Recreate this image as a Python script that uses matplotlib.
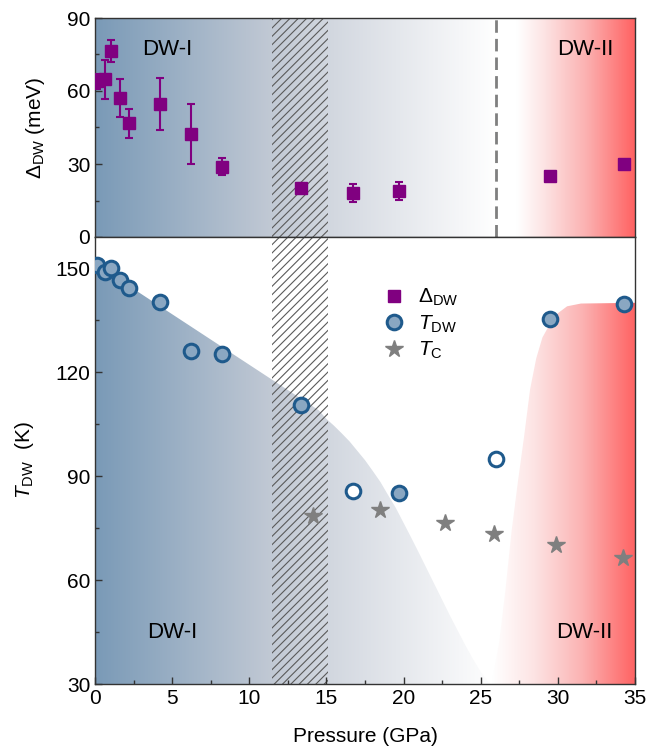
import numpy as np
import matplotlib
matplotlib.use("Agg")
import matplotlib.pyplot as plt
from matplotlib.colors import LinearSegmentedColormap
from matplotlib.ticker import MultipleLocator

plt.rcParams['font.family'] = ['Liberation Sans', 'DejaVu Sans']
plt.rcParams['mathtext.fontset'] = 'custom'
plt.rcParams['mathtext.rm'] = 'Liberation Sans'
plt.rcParams['mathtext.it'] = 'Liberation Sans:italic'
plt.rcParams['hatch.linewidth'] = 0.8

# gap (top panel)
gap_p = [0.1, 0.65, 1.02, 1.62, 2.22, 4.2, 6.25, 8.25, 13.35, 16.74, 19.7, 29.47, 34.3]
gap_v = [64, 64.8, 76.5, 57, 46.7, 54.7, 42.2, 28.8, 20.3, 18.1, 18.9, 25.2, 30.0]
gap_err = [3, 8, 4.5, 7.8, 6, 10.7, 12.3, 3.5, 2, 3.7, 3.6, 1.5, 0]

# T_DW (bottom panel), filled and open circles
tdw_p = [0.1, 0.65, 1.02, 1.62, 2.22, 4.2, 6.2, 8.25, 13.35, 19.7, 29.47, 34.3]
tdw_t = [151.0, 149.0, 150.0, 146.6, 144.2, 140.1, 126.1, 125.1, 110.5, 85.2, 135.2, 139.8]
tdw_open_p = [16.74, 26.0]
tdw_open_t = [85.6, 95.0]

# T_c
tc_p = [14.1, 18.5, 22.7, 25.85, 29.87, 34.2]
tc_t = [78.4, 80.1, 76.4, 73.4, 70.1, 66.5]

# phase boundaries (bottom panel shading)
dw1_x = [0, 14.5, 15.0, 15.5, 16.0, 16.5, 17.0, 17.5, 18.0, 18.5, 19.0, 19.5, 20.0,
         20.5, 21.0, 21.5, 22.0, 22.5, 23.0, 23.5, 24.0, 24.5, 25.0, 25.6]
dw1_y = [151.3, 109, 106.5, 104.5, 102.3, 100, 97.3, 94.6, 91.5, 88.3, 84.5, 80.8, 76.5,
         72.2, 67.8, 63.3, 58.8, 54.3, 49.8, 45.5, 41.2, 37.2, 33.5, 30]
dw2_x = [25.7, 26.2, 26.6, 27.0, 27.4, 27.8, 28.2, 28.6, 29.0, 29.5, 30.0, 30.6, 31.5, 35]
dw2_y = [30, 42, 57, 74, 88, 101, 115, 124, 130, 134, 137, 139, 139.8, 140]

hatch_lo, hatch_hi = 11.5, 15.1
p_trans = 26.0

blue_cmap = LinearSegmentedColormap.from_list(
    'dw1', [(0, '#7a9ab7'), (0.45, '#c3cad5'), (0.75, '#e4e7ec'), (1, '#ffffff')])
red_top = LinearSegmentedColormap.from_list(
    'dw2t', [(0, '#ffffff'), (0.15, '#ffffff'), (0.35, '#fde3e3'), (0.65, '#fbb1b1'),
             (1, '#ff6262')])
red_bot = LinearSegmentedColormap.from_list(
    'dw2b', [(0, '#ffffff'), (0.3, '#fde3e3'), (0.62, '#fbb4b4'), (1, '#ff6262')])
grad = np.linspace(0, 1, 256).reshape(1, -1)

fig = plt.figure(figsize=(6.49, 7.5), dpi=100)
ax1 = fig.add_axes([0.1464, 0.684, 0.832, 0.292])
ax2 = fig.add_axes([0.1464, 0.088, 0.832, 0.596])

# ---- top panel ----
ax1.imshow(grad, cmap=blue_cmap, extent=[0, p_trans, 0, 90], aspect='auto', zorder=0)
ax1.imshow(grad, cmap=red_top, extent=[p_trans, 35, 0, 90], aspect='auto', zorder=0)
ax1.axvspan(hatch_lo, hatch_hi, facecolor='none', edgecolor='#5a5a5a', hatch='////',
            linewidth=0, zorder=1)
ax1.axvline(p_trans, color='#7f7f7f', lw=2, dashes=(4.5, 2.2), zorder=2)
ax1.errorbar(gap_p, gap_v, yerr=gap_err, fmt='none', ecolor='#800080', elinewidth=1.5,
             capsize=3, capthick=1.5, zorder=3)
h_gap, = ax1.plot(gap_p, gap_v, 's', color='#800080', ms=8.5, zorder=4)
ax1.text(4.7, 77, 'DW-I', fontsize=16, ha='center', va='center')
ax1.text(31.8, 77, 'DW-II', fontsize=16, ha='center', va='center')
ax1.set_xlim(0, 35)
ax1.set_ylim(0, 90)
ax1.yaxis.set_major_locator(MultipleLocator(30))
ax1.yaxis.set_minor_locator(MultipleLocator(15))
ax1.tick_params(axis='x', bottom=False, labelbottom=False)
ax1.tick_params(axis='y', which='both', direction='in', labelsize=15, color='#333333')
ax1.tick_params(axis='y', which='major', length=5, width=1)
ax1.tick_params(axis='y', which='minor', length=3, width=1)
ax1.set_ylabel(r'$\Delta_{\rm DW}$ (meV)', fontsize=15, labelpad=14)

# ---- bottom panel ----
poly1 = ax2.fill(dw1_x + [0], dw1_y + [30], facecolor='none', edgecolor='none')[0]
im1 = ax2.imshow(grad, cmap=blue_cmap, extent=[0, p_trans, 30, 160], aspect='auto', zorder=0)
im1.set_clip_path(poly1)
poly2 = ax2.fill(dw2_x + [35], dw2_y + [30], facecolor='none', edgecolor='none')[0]
im2 = ax2.imshow(grad, cmap=red_bot, extent=[25.7, 35, 30, 160], aspect='auto', zorder=0)
im2.set_clip_path(poly2)
ax2.axvspan(hatch_lo, hatch_hi, facecolor='none', edgecolor='#5a5a5a', hatch='////',
            linewidth=0, zorder=1)

ax2.plot(tdw_open_p, tdw_open_t, 'o', ms=10.5, mfc='white', mec='#1f5a8c', mew=2.2, zorder=3)
h_tdw, = ax2.plot(tdw_p, tdw_t, 'o', ms=10.5, mfc='#8aa7c2', mec='#1f5a8c', mew=2.2, zorder=3)
h_tc, = ax2.plot(tc_p, tc_t, '*', ms=13, color='#7f7f7f', mec='#7f7f7f', zorder=3)

ax2.text(5.0, 44.8, 'DW-I', fontsize=16, ha='center', va='center')
ax2.text(31.7, 44.8, 'DW-II', fontsize=16, ha='center', va='center')

ax2.legend([h_gap, h_tdw, h_tc], [r'$\Delta_{\rm DW}$', r'$T_{\rm DW}$', r'$T_{\rm C}$'],
           loc='upper left', bbox_to_anchor=(0.49, 0.93), frameon=False, fontsize=15,
           handletextpad=0.4, labelspacing=0.25, handlelength=1.5)

ax2.set_xlim(0, 35)
ax2.set_ylim(30, 159)
ax2.xaxis.set_major_locator(MultipleLocator(5))
ax2.xaxis.set_minor_locator(MultipleLocator(2.5))
ax2.yaxis.set_major_locator(MultipleLocator(30))
ax2.yaxis.set_minor_locator(MultipleLocator(15))
ax2.tick_params(which='both', direction='in', labelsize=15, color='#333333')
ax2.tick_params(which='major', length=5, width=1)
ax2.tick_params(which='minor', length=3, width=1)
ax2.set_xlabel('Pressure (GPa)', fontsize=15, labelpad=14)
ax2.set_ylabel(r'$T_{\rm DW}$  (K)', fontsize=15, labelpad=14)

for ax in (ax1, ax2):
    for s in ax.spines.values():
        s.set_color('#333333')
        s.set_linewidth(1)

fig.savefig('out.png', dpi=100)
